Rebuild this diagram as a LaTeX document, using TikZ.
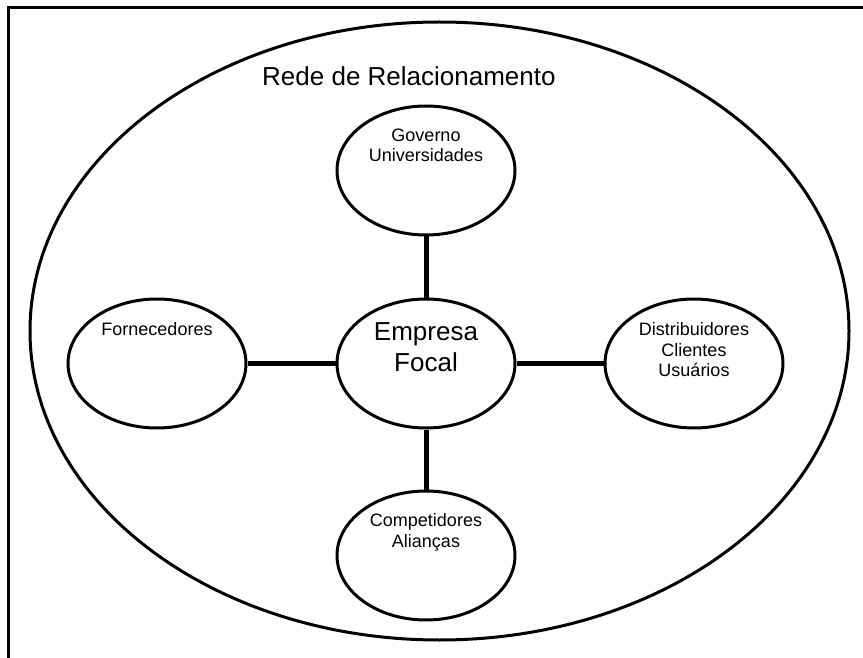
\documentclass[tikz,border=0pt]{standalone}
\usepackage{fontspec}
\setmainfont{Liberation Sans}
\usetikzlibrary{shapes.geometric,positioning}
\begin{document}
\begin{tikzpicture}[x=1pt,y=-1pt,
                    actor/.style={ellipse,draw,line width=3pt,minimum width=178pt,minimum height=129pt,inner sep=0pt},
                    tag/.style={align=center,inner sep=0pt,font=\fontsize{18}{20.5}\selectfont},
                    link/.style={line width=5pt}]
  \useasboundingbox (0,0) rectangle (863,658);
  \draw[line width=3pt] (8,660) -- (8,8) -- (865,8);
  % outer network
  \node[ellipse,draw,line width=3pt,minimum width=819pt,minimum height=618pt,inner sep=0pt] (net) at (439.5,331) {};
  \node[anchor=base west,inner sep=0pt,font=\fontsize{26}{31}\selectfont] (nettitle) at (262,85.7) {Rede de Relacionamento};
  % actors
  \node[actor] (emp) at (426,363.5) {};
  \node[actor] (gov) at (426,170.5) {};
  \node[actor] (com) at (426,555.5) {};
  \node[actor] (for) at (157,363.5) {};
  \node[actor] (dis) at (694,363.5) {};
  \node[tag,font=\fontsize{26}{31}\selectfont,below=25pt of emp.north] (emptext) {Empresa\\Focal};
  \node[tag,below=24pt of gov.north] (govtext) {Governo\\Universidades};
  \node[tag,below=24pt of com.north] (comtext) {Competidores\\Alianças};
  \node[tag,below=25pt of for.north] (fortext) {Fornecedores};
  \node[tag,below=25pt of dis.north] (distext) {Distribuidores\\Clientes\\Usuários};
  \path[link]%
    (gov) edge (emp)
    (emp) edge (com)
    (for) edge (emp)
    (emp) edge (dis);
\end{tikzpicture}
\end{document}
